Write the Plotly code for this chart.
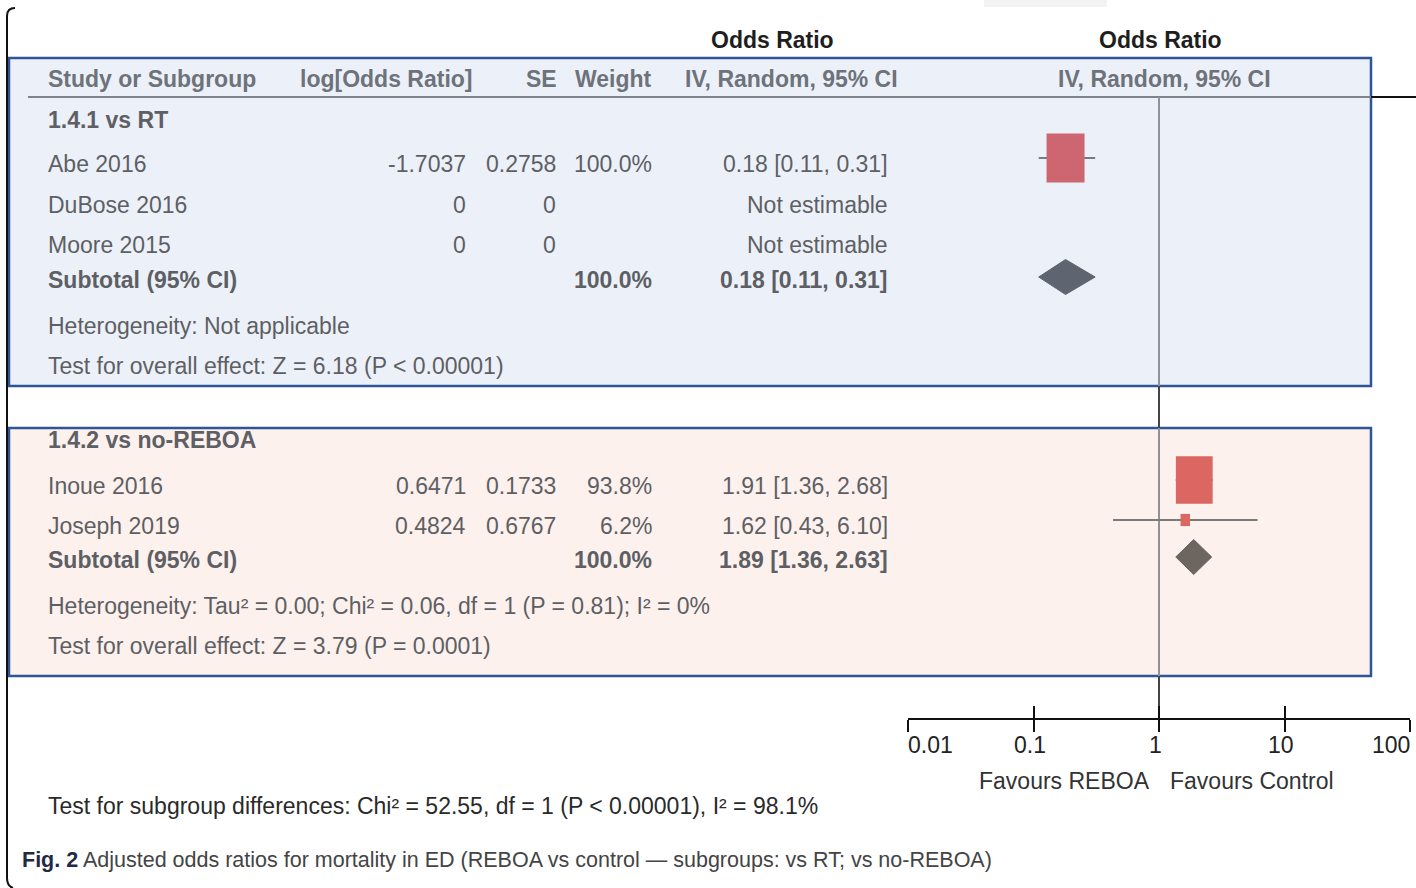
import numpy as np
import plotly.graph_objects as go

W, H = 1416, 888

# ---------------- data ----------------
group_names = ["1.4.1 vs RT", "1.4.2 vs no-REBOA"]
study_names = ["Abe 2016", "DuBose 2016", "Moore 2015", "Inoue 2016", "Joseph 2019"]
study_group = [0, 0, 0, 1, 1]
log_or = [-1.7037, 0, 0, 0.6471, 0.4824]
se = [0.2758, 0, 0, 0.1733, 0.6767]
weight = [100.0, None, None, 93.8, 6.2]
or_est = [0.18, None, None, 1.91, 1.62]
or_lo = [0.11, None, None, 1.36, 0.43]
or_hi = [0.31, None, None, 2.68, 6.10]

sub_weight = [100.0, 100.0]
sub_est = [0.18, 1.89]
sub_lo = [0.11, 1.36]
sub_hi = [0.31, 2.63]

heterogeneity = [
    "Heterogeneity: Not applicable",
    "Heterogeneity: Tau² = 0.00; Chi² = 0.06, df = 1 (P = 0.81); I² = 0%",
]
overall_effect = [
    "Test for overall effect: Z = 6.18 (P < 0.00001)",
    "Test for overall effect: Z = 3.79 (P = 0.0001)",
]
subgroup_test = "Test for subgroup differences: Chi² = 52.55, df = 1 (P < 0.00001), I² = 98.1%"

tick_vals = [0.01, 0.1, 1, 10, 100]
tick_text = ["0.01", "0.1", "1", "10", "100"]
favours = ["Favours REBOA", "Favours Control"]
caption_lead = "Fig. 2"
caption_body = "Adjusted odds ratios for mortality in ED (REBOA vs control — subgroups: vs RT; vs no-REBOA)"

# ---------------- layout constants (pixel rows / columns) ----------------
Y_TITLE, Y_HEADER = 40, 79
group_title_y = [120, 440]
study_y = [164, 205, 245, 486, 526]
subtotal_y = [280, 560]
het_y = [326, 606]
overall_y = [366, 646]
Y_AXIS, Y_TICKLAB, Y_FAVOURS = 718, 745, 781
Y_SUBTEST, Y_CAPTION = 806, 860

X_NAME = 48
X_LOGOR, X_SE, X_WEIGHT, X_CI = 466, 556, 652, 888
X_FOREST0, X_FOREST1 = 908, 1410
BOX_L, BOX_R = 9, 1371
panel_top = [58, 428]
panel_bot = [386, 676]
panel_fill = ["#ECF1F9", "#FCF1ED"]
box_color = ["#CD6670", "#DC6661"]
diamond_color = ["#5E6571", "#6D6560"]

FONT = "Arial, Liberation Sans, sans-serif"
C_HEAD = "#6E727A"
C_BODY = "#5E5F64"
C_DARK = "#1E1E1E"

annotations = []


def txt(x, y, s, anchor="left", size=23, color=C_BODY, bold=False, xref="x", family=FONT, xshift=None):
    if xshift is None:
        xshift = {"left": -2, "right": 2}.get(anchor, 0)
    annotations.append(dict(
        x=x, y=y, xref=xref, yref="y", text=f"<b>{s}</b>" if bold else s,
        showarrow=False, xanchor=anchor, yanchor="middle", xshift=xshift,
        font=dict(family=family, size=size, color=color),
    ))


def fmt_num(v):
    return "0" if v == 0 else f"{v:.4f}"


def fmt_ci(e, lo, hi):
    if e is None:
        return "Not estimable"
    return f"{e:.2f} [{lo:.2f}, {hi:.2f}]"


# header text
txt(772, Y_TITLE, "Odds Ratio", "center", color=C_DARK, bold=True)
txt(1160, Y_TITLE, "Odds Ratio", "center", color=C_DARK, bold=True)
txt(X_NAME, Y_HEADER, "Study or Subgroup", color=C_HEAD, bold=True)
txt(472, Y_HEADER, "log[Odds Ratio]", "right", color=C_HEAD, bold=True)
txt(557, Y_HEADER, "SE", "right", color=C_HEAD, bold=True)
txt(652, Y_HEADER, "Weight", "right", color=C_HEAD, bold=True)
txt(898, Y_HEADER, "IV, Random, 95% CI", "right", color=C_HEAD, bold=True)
txt(1164, Y_HEADER, "IV, Random, 95% CI", "center", color=C_HEAD, bold=True)

# study rows
for i, name in enumerate(study_names):
    y = study_y[i]
    txt(X_NAME, y, name)
    txt(X_LOGOR, y, fmt_num(log_or[i]), "right")
    txt(X_SE, y, fmt_num(se[i]), "right")
    if weight[i] is not None:
        txt(X_WEIGHT, y, f"{weight[i]:.1f}%", "right")
    txt(X_CI, y, fmt_ci(or_est[i], or_lo[i], or_hi[i]), "right")

# group rows
for g, gname in enumerate(group_names):
    txt(X_NAME, group_title_y[g], gname, color=C_BODY, bold=True)
    txt(X_NAME, subtotal_y[g], "Subtotal (95% CI)", bold=True)
    txt(X_WEIGHT, subtotal_y[g], f"{sub_weight[g]:.1f}%", "right", bold=True)
    txt(X_CI, subtotal_y[g], fmt_ci(sub_est[g], sub_lo[g], sub_hi[g]), "right", bold=True)
    txt(X_NAME, het_y[g], heterogeneity[g])
    txt(X_NAME, overall_y[g], overall_effect[g])

# footer
txt(X_NAME, Y_SUBTEST, subgroup_test, color="#2A2A2A")
txt(1150, Y_FAVOURS, favours[0], "right", color="#333333")
txt(1170, Y_FAVOURS, favours[1], "left", color="#333333")
txt(22, Y_CAPTION, f"<b>{caption_lead}</b> <span style='color:#444444'>{caption_body}</span>",
    size=21.5, color="#1F2A44")

# forest axis tick labels
for k, (v, t) in enumerate(zip(tick_vals, tick_text)):
    if k == 0:
        anc, sh = "left", -2
    elif k == len(tick_vals) - 1:
        anc, sh = "right", 2
    else:
        anc, sh = "center", -4
    txt(np.log10(v), Y_TICKLAB, t, anc, color="#222222", xref="x2", xshift=sh)

# ---------------- traces ----------------
fig = go.Figure()

# null line at OR = 1 (lighter where it crosses the tinted panels)
null_in, null_out = [], []
segs = [(97, panel_bot[0], True), (panel_bot[0], panel_top[1], False),
        (panel_top[1], panel_bot[1], True), (panel_bot[1], Y_AXIS, False)]
for a, b, inside in segs:
    (null_in if inside else null_out).append((a, b))
for segs_, col in [(null_in, "#8E939B"), (null_out, "#444444")]:
    xs, ys = [], []
    for a, b in segs_:
        xs += [1, 1, None]
        ys += [a, b, None]
    fig.add_trace(go.Scatter(x=xs, y=ys, xaxis="x2", yaxis="y2", mode="lines",
                             line=dict(color=col, width=2), hoverinfo="skip", showlegend=False))

# study whiskers and weight boxes (box area scales with weight)
px_per_decade = (X_FOREST1 - X_FOREST0) / 4.0
shapes = []
for i in range(len(study_names)):
    if or_est[i] is None:
        continue
    g = study_group[i]
    ym = study_y[i] - 6
    fig.add_trace(go.Scatter(x=[or_lo[i], or_hi[i]], y=[ym, ym], xaxis="x2", yaxis="y2",
                             mode="lines", line=dict(color="#7A7A7A", width=2),
                             hoverinfo="skip", showlegend=False))
    s = np.sqrt(weight[i] / 100.0)
    bw, bh = 38 * s, 49 * s
    half = 10 ** (bw / 2 / px_per_decade)
    shapes.append(dict(type="rect", xref="x2", yref="y2", ysizemode="pixel", yanchor=ym,
                       x0=or_est[i] / half, x1=or_est[i] * half, y0=-bh / 2, y1=bh / 2,
                       fillcolor=box_color[g], line=dict(width=0), layer="above"))

# subtotal diamonds
for g in range(len(group_names)):
    ym = subtotal_y[g] - 3
    hh = 17.5
    fig.add_trace(go.Scatter(
        x=[sub_lo[g], sub_est[g], sub_hi[g], sub_est[g], sub_lo[g]],
        y=[ym, ym - hh, ym, ym + hh, ym], xaxis="x2", yaxis="y2",
        mode="lines", fill="toself", fillcolor=diamond_color[g],
        line=dict(color=diamond_color[g], width=1), hoverinfo="skip", showlegend=False))

# invisible trace so the upward tick axis is instantiated
fig.add_trace(go.Scatter(x=[1], y=[Y_AXIS], xaxis="x3", yaxis="y2", mode="markers",
                         marker=dict(opacity=0), hoverinfo="skip", showlegend=False))

# ---------------- decorations ----------------
for g in range(2):
    shapes.append(dict(type="rect", xref="x", yref="y", x0=BOX_L, x1=BOX_R,
                       y0=panel_top[g], y1=panel_bot[g], fillcolor=panel_fill[g],
                       line=dict(color="#2F5597", width=2.5), layer="below"))
# header rule
shapes.append(dict(type="line", xref="x", yref="y", x0=28, x1=BOX_R, y0=97, y1=97,
                   line=dict(color="#7E838C", width=2), layer="below"))
shapes.append(dict(type="line", xref="x", yref="y", x0=BOX_R, x1=W, y0=97, y1=97,
                   line=dict(color="#111111", width=2), layer="below"))
# page frame on the left
shapes.append(dict(type="path", xref="x", yref="y", path="M 15,8 Q 7,8 7,16 L 7,878 Q 7,886 13,888",
                   line=dict(color="#111111", width=2), layer="below"))
shapes.append(dict(type="rect", xref="x", yref="y", x0=984, x1=1107, y0=0, y1=7,
                   fillcolor="#F3F3F3", line=dict(width=0), layer="below"))

axis_common = dict(type="log", range=[-2, 2], domain=[X_FOREST0 / W, X_FOREST1 / W],
                   tickvals=tick_vals, showticklabels=False, showgrid=False, zeroline=False,
                   ticklen=12, tickwidth=2, tickcolor="#111111", anchor="y2")

fig.update_layout(
    width=W, height=H,
    margin=dict(l=0, r=0, t=0, b=0),
    paper_bgcolor="white", plot_bgcolor="rgba(0,0,0,0)",
    font=dict(family=FONT),
    showlegend=False,
    xaxis=dict(range=[0, W], domain=[0, 1], visible=False, anchor="y", fixedrange=True),
    yaxis=dict(range=[H, 0], domain=[0, 1], visible=False, anchor="x", fixedrange=True),
    xaxis2=dict(**axis_common, ticks="outside", showline=True, linecolor="#111111", linewidth=2),
    xaxis3=dict(**axis_common, ticks="inside", showline=False, overlaying="x2", matches="x2"),
    yaxis2=dict(range=[Y_AXIS, 0], domain=[(H - Y_AXIS) / H, 1], visible=False, anchor="x2",
                fixedrange=True),
    shapes=shapes,
    annotations=annotations,
)

fig.write_html("out.html")
